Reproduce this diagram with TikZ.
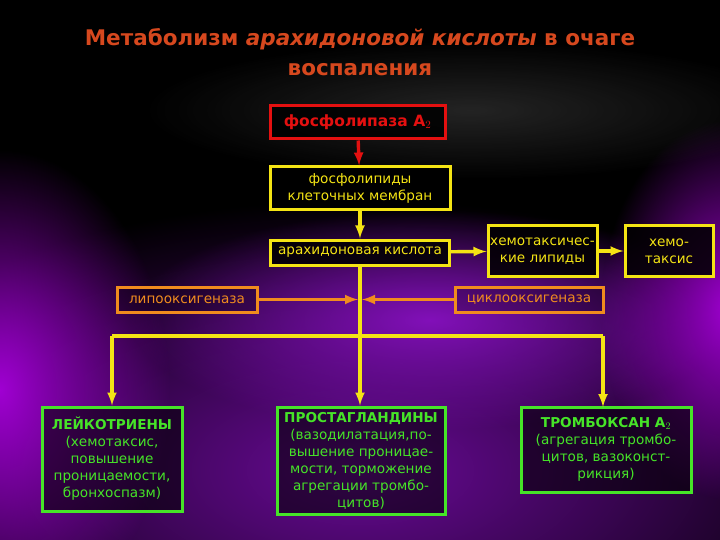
\documentclass[tikz,border=0pt]{standalone}
\usepackage{fontspec}
\setmainfont{DejaVu Sans}
\usetikzlibrary{positioning,fadings}
\tikzfading[name=glow, inner color=transparent!0, outer color=transparent!100]
\definecolor{titlecol}{RGB}{214,72,30}
\definecolor{redcol}{RGB}{228,16,16}
\definecolor{yelcol}{RGB}{244,228,20}
\definecolor{orcol}{RGB}{240,140,30}
\definecolor{grcol}{RGB}{70,228,40}
\definecolor{glowA}{RGB}{160,0,210}
\definecolor{glowB}{RGB}{105,10,150}
\definecolor{glowC}{RGB}{130,16,185}

\begin{document}
\begin{tikzpicture}[x=1pt, y=-1pt, >=latex,
    every node/.style={font=\fontsize{13.6}{17}\selectfont, align=center, inner sep=0pt},
    box/.style={draw, line width=3pt, fill=black, fill opacity=0.85, text opacity=1},
    redbox/.style={box, draw=redcol, text=redcol, font=\bfseries\fontsize{15.5}{17}\selectfont},
    yelbox/.style={box, draw=yelcol, text=yelcol},
    orbox/.style={box, draw=orcol, text=orcol, fill opacity=0.25},
    grbox/.style={box, draw=grcol, text=grcol, fill opacity=0.55},
    link/.style={->, line width=3.4pt}]
  % background
  \useasboundingbox (0,0) rectangle (720,540);
  \clip (0,0) rectangle (720,540);
  \fill[black] (0,0) rectangle (720,540);
  \fill[glowB, path fading=glow] (360,470) ellipse [x radius=560, y radius=270];
  \fill[glowC, path fading=glow] (430,320) ellipse [x radius=300, y radius=110];
  \fill[glowA, path fading=glow] (0,390) ellipse [x radius=170, y radius=240];
  \fill[glowA, path fading=glow] (730,310) ellipse [x radius=130, y radius=190];
  \fill[gray!45, path fading=glow, opacity=0.18] (470,110) ellipse [x radius=330, y radius=70];

  % title
  \node[text=titlecol, font=\bfseries\fontsize{21.5}{30}\selectfont] (title) at (360,52)
    {Метаболизм \textit{арахидоновой кислоты} в очаге\\воспаления};

  % upper chain
  \node[redbox, minimum width=175, minimum height=33] (pla) at (357.5,122.5)
    {фосфолипаза A$_2$};
  \node[yelbox, minimum width=180, minimum height=43] (pl) at (360,188.5)
    {фосфолипиды\\клеточных мембран};
  \node[yelbox, minimum width=179, minimum height=25] (ak) at (360,252.5)
    {арахидоновая кислота};
  \node[yelbox, minimum width=109, minimum height=50] (hl) at (542.5,251)
    {хемотаксичес-\\кие липиды};
  \node[yelbox, minimum width=88, minimum height=50] (ht) at (669,251)
    {хемо-\\таксис};
  \draw[link, redcol] (pla) -- (pl);
  \draw[link, yelcol] (pl) -- (ak);
  \draw[link, yelcol] (ak) -- (hl);
  \draw[link, yelcol] (hl) -- (ht);

  % enzymes
  \node[orbox, minimum width=140, minimum height=25] (lox) at (187,299.5)
    {липооксигеназа};
  \node[orbox, minimum width=148, minimum height=25] (cox) at (529,299.5)
    {циклооксигеназа};

  % products
  \node[grbox, minimum width=140, minimum height=104] (lt) at (112,459)
    {\textbf{ЛЕЙКОТРИЕНЫ}\\(хемотаксис,\\повышение\\проницаемости,\\бронхоспазм)};
  \node[grbox, minimum width=168, minimum height=107] (pg) at (361,460.5)
    {\textbf{ПРОСТАГЛАНДИНЫ}\\(вазодилатация,по-\\вышение проницае-\\мости, торможение\\агрегации тромбо-\\цитов)};
  \node[grbox, minimum width=170, minimum height=85] (tx) at (606,449.5)
    {\textbf{ТРОМБОКСАН A$_2$}\\(агрегация тромбо-\\цитов, вазоконст-\\рикция)};

  % distribution
  \coordinate (bus) at (360,336);
  \draw[link, yelcol] (ak.south) -- (ak.south |- pg.north);
  \draw[yelcol, line width=3.4pt] (lt.north |- bus) -- (603,336);
  \draw[link, yelcol] (lt.north |- bus) -- (lt.north);
  \draw[link, yelcol] (603,336) -- (603,407);
  \draw[link, orcol, shorten >=2pt] (lox) -- (lox -| ak.south);
  \draw[link, orcol, shorten >=2pt] (cox) -- (cox -| ak.south);
\end{tikzpicture}
\end{document}
